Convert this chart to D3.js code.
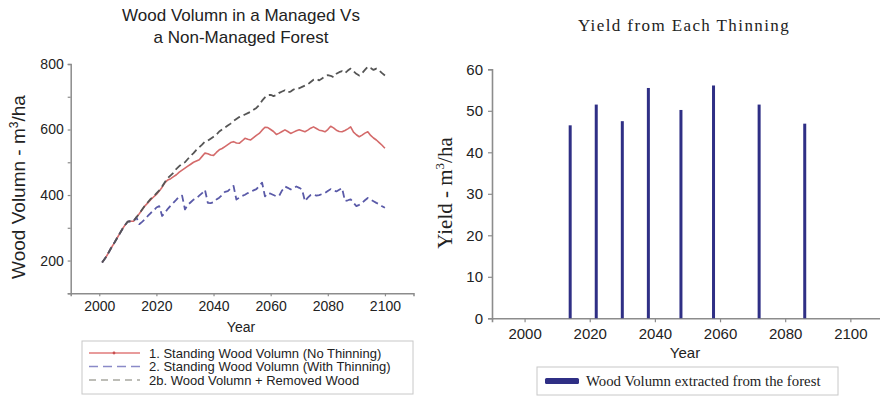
<!DOCTYPE html>
<html>
<head>
<meta charset="utf-8">
<script src="https://cdn.jsdelivr.net/npm/d3@7"></script>
<style>
  html, body { margin: 0; padding: 0; background: #fff; }
  svg { display: block; }
  .sans { font-family: "Liberation Sans", Arial, Helvetica, sans-serif; }
  .serif { font-family: "Liberation Serif", "Times New Roman", serif; }
</style>
</head>
<body>
<svg id="chart" width="880" height="396"></svg>
<script>
// ---------- Left panel: standing volume, annual values (m3/ha) ----------
const firstYear = 2001;
// 2001-2013 shared by all three scenarios
const sharedStart = [194, 206, 220, 236, 250, 265, 280, 295, 308, 319, 320, 320, 332];
// 2014-2100
const noThinning = [343, 355, 367, 376, 386, 394, 402, 412, 424, 438, 446, 450, 456, 462, 470, 476, 482, 488, 494, 500,
  504, 508, 518, 528, 526, 522, 521, 530, 538, 542, 548, 554, 560, 563, 559, 558, 565, 573, 570, 568,
  575, 582, 588, 598, 607, 606, 600, 594, 585, 589, 594, 599, 594, 588, 592, 596, 599, 596, 593, 598,
  604, 608, 603, 598, 596, 593, 600, 610, 605, 598, 594, 593, 597, 602, 608, 592, 584, 578, 583, 589,
  593, 582, 574, 568, 560, 552, 543];
const withThinning = [311, 318, 326, 336, 345, 352, 362, 366, 336, 346, 358, 368, 377, 386, 396, 398, 356, 370, 378, 386,
  390, 398, 406, 416, 376, 375, 378, 386, 392, 400, 410, 412, 420, 428, 386, 392, 397, 401, 406, 410,
  414, 418, 428, 438, 396, 406, 404, 400, 396, 398, 414, 426, 422, 417, 421, 426, 422, 417, 381, 392,
  400, 402, 398, 400, 403, 406, 412, 418, 414, 411, 416, 421, 382, 384, 387, 376, 366, 370, 376, 384,
  391, 386, 381, 376, 372, 366, 361];
const plusRemoved = [343, 356, 368, 378, 388, 396, 405, 414, 426, 440, 452, 460, 468, 480, 488, 496, 500, 510, 520, 528,
  538, 546, 554, 563, 566, 572, 578, 584, 594, 600, 606, 612, 618, 626, 632, 638, 642, 646, 650, 654,
  660, 666, 675, 688, 698, 705, 706, 702, 705, 712, 716, 720, 714, 716, 722, 726, 726, 730, 734, 738,
  745, 752, 755, 750, 756, 762, 766, 764, 760, 770, 775, 778, 772, 780, 786, 778, 770, 765, 772, 782,
  792, 788, 782, 786, 780, 772, 765];
const leftYTicks = [200, 400, 600, 800];
const leftYMinor = [100, 300, 500, 700];
const yearTicks = [2000, 2020, 2040, 2060, 2080, 2100];
const leftLegend = [
  "1. Standing Wood Volumn (No Thinning)",
  "2. Standing Wood Volumn (With Thinning)",
  "2b. Wood Volumn + Removed Wood"
];

// ---------- Right panel: yield of each thinning ----------
const thinYears = [2014, 2022, 2030, 2038, 2048, 2058, 2072, 2086];
const thinYield = [46.5, 51.5, 47.5, 55.5, 50.2, 56.1, 51.5, 46.9];
const rightYTicks = [0, 10, 20, 30, 40, 50, 60];

// ------------------------------------------------------------
const svg = d3.select("#chart");
const axisColor = "#8c8c8c";
const textColor = "#222";

function toSeries(tail) {
  const vals = sharedStart.concat(tail);
  return vals.map((v, i) => ({ year: firstYear + i, value: v }));
}
const series = [
  { name: leftLegend[0], data: toSeries(noThinning), color: "#d46a6a", dash: null, width: 1.6 },
  { name: leftLegend[1], data: toSeries(withThinning), color: "#5a5aa8", dash: "7,4", width: 1.8 },
  { name: leftLegend[2], data: toSeries(plusRemoved), color: "#555555", dash: "7,4", width: 1.8 }
];

// ===== Left chart =====
const xL = d3.scaleLinear().domain([1990, 2110]).range([70.7, 413.5]);
const yL = d3.scaleLinear().domain([100, 800]).range([293.3, 64]);
const gL = svg.append("g");

gL.append("text").attr("class", "sans").attr("x", 241).attr("y", 21)
  .attr("text-anchor", "middle").attr("font-size", 17).attr("fill", textColor)
  .text("Wood Volumn in a Managed Vs");
gL.append("text").attr("class", "sans").attr("x", 241).attr("y", 43)
  .attr("text-anchor", "middle").attr("font-size", 17).attr("fill", textColor)
  .text("a Non-Managed Forest");

// axes
const axL = gL.append("g").attr("transform", `translate(${xL.range()[0]},0)`)
  .call(d3.axisLeft(yL).tickValues(leftYTicks).tickSize(3).tickPadding(4).tickFormat(d3.format("d")));
const axLm = gL.append("g").attr("transform", `translate(${xL.range()[0]},0)`)
  .call(d3.axisLeft(yL).tickValues(leftYMinor).tickSize(3).tickFormat(""));
const axB = gL.append("g").attr("transform", `translate(0,${yL.range()[0]})`)
  .call(d3.axisBottom(xL).tickValues(yearTicks).tickSize(3).tickPadding(5).tickFormat(d3.format("d")));
[axL, axLm, axB].forEach(a => {
  a.select(".domain").attr("stroke", axisColor).attr("stroke-width", 1.5);
  a.selectAll(".tick line").attr("stroke", axisColor).attr("stroke-width", 1.2);
  a.selectAll("text").attr("class", "sans").attr("font-size", 14).attr("fill", textColor);
});
axLm.select(".domain").remove();

gL.append("text").attr("class", "sans").attr("x", 241).attr("y", 332)
  .attr("text-anchor", "middle").attr("font-size", 14).attr("fill", textColor).text("Year");

const yLab = gL.append("text").attr("class", "sans").attr("font-size", 19).attr("fill", textColor)
  .attr("text-anchor", "middle").attr("transform", "translate(25,187) rotate(-90)");
yLab.append("tspan").text("Wood Volumn - m");
yLab.append("tspan").attr("font-size", 12).attr("dy", -7).text("3");
yLab.append("tspan").attr("dy", 7).text("/ha");

const line = d3.line().x(d => xL(d.year)).y(d => yL(d.value));
// draw the no-thinning curve first, dashed curves on top
series.forEach(s => {
  gL.append("path").datum(s.data).attr("d", line)
    .attr("fill", "none").attr("stroke", s.color).attr("stroke-width", s.width)
    .attr("stroke-linejoin", "round")
    .attr("stroke-dasharray", s.dash);
});

// legend
const lgL = gL.append("g");
lgL.append("rect").attr("x", 82).attr("y", 341).attr("width", 331).attr("height", 53)
  .attr("fill", "#fff").attr("stroke", "#c8c8c8").attr("stroke-width", 1);
const legendSw = ["#e07a7a", "#8a8ac8", "#a8a8a0"];
leftLegend.forEach((t, i) => {
  const yy = 353 + i * 13.5;
  lgL.append("line").attr("x1", 89).attr("x2", 140).attr("y1", yy).attr("y2", yy)
    .attr("stroke", legendSw[i]).attr("stroke-width", 1.6)
    .attr("stroke-dasharray", i === 0 ? null : (i === 1 ? "9,5" : "7,5"));
  if (i === 0) lgL.append("circle").attr("cx", 114).attr("cy", yy).attr("r", 1.4).attr("fill", "#c85050");
  lgL.append("text").attr("class", "sans").attr("x", 149).attr("y", yy + 4.5)
    .attr("font-size", 13).attr("fill", textColor).text(t);
});

// ===== Right chart =====
const xR = d3.scaleLinear().domain([1990, 2120]).range([492, 915.5]);
const yR = d3.scaleLinear().domain([0, 60]).range([318.3, 69.3]);
const gR = svg.append("g");

gR.append("text").attr("class", "serif").attr("x", 684).attr("y", 31)
  .attr("text-anchor", "middle").attr("font-size", 17).attr("letter-spacing", 1.4)
  .attr("fill", textColor).text("Yield from Each Thinning");

const axR = gR.append("g").attr("transform", `translate(${xR.range()[0]},0)`)
  .call(d3.axisLeft(yR).tickValues(rightYTicks).tickSize(4).tickPadding(5));
const axRB = gR.append("g").attr("transform", `translate(0,${yR.range()[0]})`)
  .call(d3.axisBottom(xR).tickValues(yearTicks).tickSize(4).tickPadding(6).tickFormat(d3.format("d")));
[axR, axRB].forEach(a => {
  a.select(".domain").attr("stroke", axisColor).attr("stroke-width", 1.6);
  a.selectAll(".tick line").attr("stroke", axisColor).attr("stroke-width", 1.2);
  a.selectAll("text").attr("class", "sans").attr("font-size", 15).attr("fill", textColor);
});

gR.append("text").attr("class", "sans").attr("x", 685).attr("y", 358)
  .attr("text-anchor", "middle").attr("font-size", 15).attr("fill", textColor).text("Year");

const yRLab = gR.append("text").attr("class", "serif").attr("font-size", 21).attr("fill", textColor)
  .attr("text-anchor", "middle").attr("transform", "translate(452,193) rotate(-90)");
yRLab.append("tspan").text("Yield - m");
yRLab.append("tspan").attr("font-size", 13).attr("dy", -8).text("3");
yRLab.append("tspan").attr("dy", 8).text("/ha");

const barW = 3;
gR.selectAll("rect.bar").data(thinYears.map((y, i) => ({ year: y, value: thinYield[i] })))
  .join("rect").attr("class", "bar")
  .attr("x", d => xR(d.year) - barW / 2).attr("width", barW)
  .attr("y", d => yR(d.value)).attr("height", d => yR(0) - yR(d.value))
  .attr("fill", "#2f2f85");

// legend
const lgR = gR.append("g");
lgR.append("rect").attr("x", 537).attr("y", 367).attr("width", 301).attr("height", 28)
  .attr("fill", "#fff").attr("stroke", "#c8c8c8").attr("stroke-width", 1);
lgR.append("rect").attr("x", 545).attr("y", 378).attr("width", 34).attr("height", 6)
  .attr("rx", 1.5).attr("fill", "#2f2f85");
lgR.append("text").attr("class", "serif").attr("x", 586).attr("y", 385.5)
  .attr("font-size", 14.8).attr("fill", textColor).text("Wood Volumn extracted from the forest");
</script>
</body>
</html>
